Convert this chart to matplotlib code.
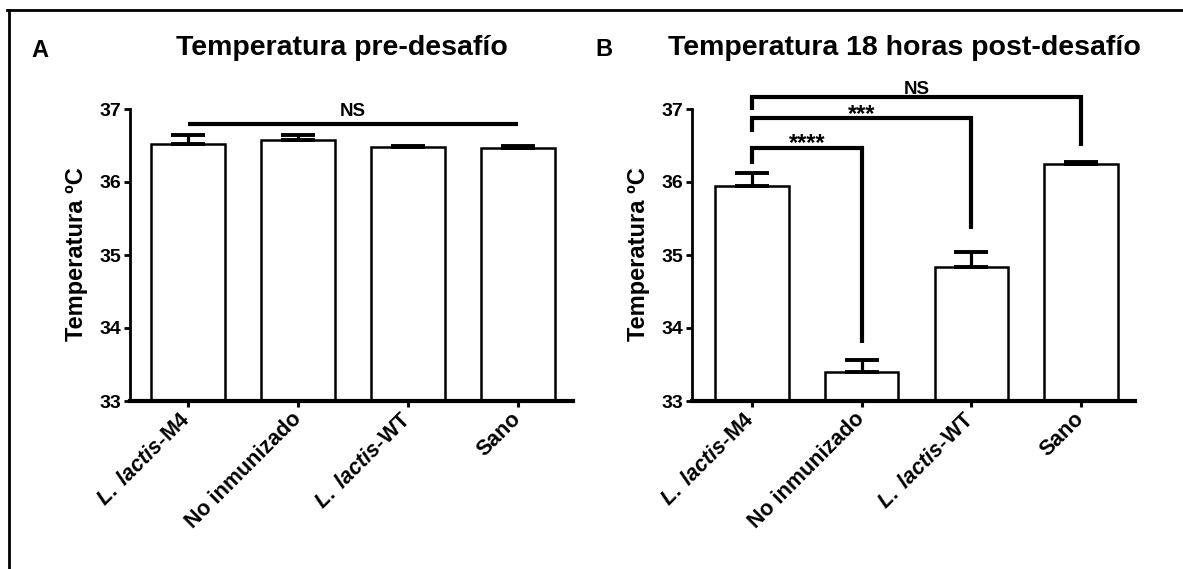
import matplotlib
matplotlib.use('Agg')
import matplotlib.pyplot as plt
from matplotlib.lines import Line2D

plt.rcParams['font.family'] = ['Liberation Sans', 'DejaVu Sans']
plt.rcParams['font.weight'] = 'bold'
plt.rcParams['mathtext.fontset'] = 'custom'
plt.rcParams['mathtext.it'] = 'Liberation Sans:italic:bold'
plt.rcParams['mathtext.rm'] = 'Liberation Sans:bold'

# data
groups = [r'$\mathit{L.}$ $\mathit{lactis}$-M4', 'No inmunizado', r'$\mathit{L.}$ $\mathit{lactis}$-WT', 'Sano']
pre_mean = [36.52, 36.57, 36.48, 36.47]
pre_err = [0.12, 0.08, 0.02, 0.03]
post_mean = [35.95, 33.40, 34.84, 36.25]
post_err = [0.17, 0.16, 0.20, 0.02]
titles = ['Temperatura pre-desafío', 'Temperatura 18 horas post-desafío']
letters = ['A', 'B']
yticks = [33, 34, 35, 36, 37]

# brackets in panel B: (from, to, top y, left leg end, right leg end, label, text offset pt)
brackets = [
    (0, 1, 36.46, 36.25, 33.79, '****', -1.5),
    (0, 2, 36.87, 36.68, 35.36, '***', -1.5),
    (0, 3, 37.16, 36.98, 36.49, 'NS', 2.5),
]

W, H = 1183, 569
fig = plt.figure(figsize=(W / 100, H / 100), dpi=100)

def draw_panel(left, width, xlim, mean, err, ylab_x):
    ax = fig.add_axes([left / W, 1 - 401 / H, width / W, 292 / H])
    x = range(len(mean))
    ax.bar(x, mean, width=0.67, bottom=0, color='white', edgecolor='black', linewidth=1.8, zorder=2)
    ax.errorbar(x, mean, yerr=[[0] * len(err), err], fmt='none', ecolor='black',
                elinewidth=2.3, capsize=12, capthick=2.8, zorder=3)
    ax.set_ylim(33, 37)
    ax.set_xlim(*xlim)
    ax.set_yticks(yticks)
    ax.set_xticks(list(x))
    ax.set_xticklabels(groups, rotation=45, ha='right', va='center', rotation_mode='anchor', fontsize=15.5)
    ax.tick_params(axis='y', labelsize=14, width=2, length=4, pad=2)
    ax.tick_params(axis='x', width=2.2, length=4, pad=7)
    for s in ['top', 'right']:
        ax.spines[s].set_visible(False)
    ax.spines['left'].set_linewidth(2)
    ax.spines['bottom'].set_linewidth(3)
    fig.text(ylab_x / W, 1 - 254 / H, 'Temperatura ºC', rotation=90, ha='center', va='center', fontsize=17)
    return ax

axA = draw_panel(130, 443, (-0.527, 3.5), pre_mean, pre_err, 76)
axA.plot([0, 3], [36.80, 36.80], color='black', lw=3, clip_on=False, solid_capstyle='butt')
axA.annotate('NS', (1.5, 36.80), xytext=(0, 5.8), textcoords='offset points',
             ha='center', va='baseline', fontsize=13.5)

axB = draw_panel(691.5, 443.5, (-0.55, 3.49), post_mean, post_err, 638)
for a, b, top, l_end, r_end, lab, off in brackets:
    axB.plot([a, a, b, b], [l_end, top, top, r_end], color='black', lw=3, clip_on=False,
             solid_joinstyle='miter', solid_capstyle='butt')
    fs = 13.5 if lab == 'NS' else 17
    axB.annotate(lab, ((a + b) / 2, top), xytext=(0, off), textcoords='offset points',
                 ha='center', va='baseline', fontsize=fs, annotation_clip=False)

fig.text(342 / W, 1 - 55 / H, titles[0], ha='center', va='baseline', fontsize=20.5)
fig.text(904 / W, 1 - 55 / H, titles[1], ha='center', va='baseline', fontsize=20.5)
fig.text(40 / W, 1 - 57 / H, letters[0], ha='center', va='baseline', fontsize=17)
fig.text(604 / W, 1 - 56 / H, letters[1], ha='center', va='baseline', fontsize=17)

# frame lines at top and left
fig.add_artist(Line2D([7 / W, 1], [1 - 9.5 / H, 1 - 9.5 / H], transform=fig.transFigure, color='black', lw=2))
fig.add_artist(Line2D([8.7 / W, 8.7 / W], [0, 1 - 9.5 / H], transform=fig.transFigure, color='black', lw=2))

fig.savefig('out.png', dpi=100, facecolor='white')
